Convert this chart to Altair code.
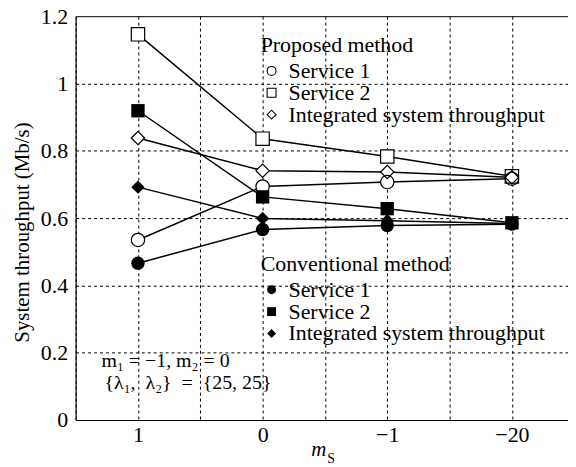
import altair as alt
import pandas as pd

# ---- data ----
x_labels = ["1", "0", "\u22121", "\u221220"]
series = ["Service 1", "Service 2", "Integrated system throughput"]
methods = ["Proposed method", "Conventional method"]

prop_s1 = [0.535, 0.694, 0.707, 0.717]
prop_s2 = [1.146, 0.836, 0.783, 0.724]
prop_int = [0.838, 0.741, 0.737, 0.721]
conv_s1 = [0.466, 0.566, 0.578, 0.582]
conv_s2 = [0.919, 0.663, 0.628, 0.586]
conv_int = [0.692, 0.599, 0.592, 0.584]

y_ticks = [0, 0.2, 0.4, 0.6, 0.8, 1.0, 1.2]
x_grid = [-0.5, 0, 0.5, 1, 1.5, 2, 2.5, 3]
annotation = ["m\u2081 = \u22121, m\u2082 = 0",
              "{\u03bb\u2081,\u00a0 \u03bb\u2082}\u00a0 =\u00a0 {25, 25}"]

rows = []
for method, vals in [(methods[0], [prop_s1, prop_s2, prop_int]),
                     (methods[1], [conv_s1, conv_s2, conv_int])]:
    for s, v in zip(series, vals):
        for i, val in enumerate(v):
            rows.append({"method": method, "series": s, "idx": i, "value": val,
                         "key": method + s})
df = pd.DataFrame(rows)

FONT = "Liberation Serif"
FS = 21
LFS = 22
shape_range = ["circle", "square", "diamond"]

labels_js = "[" + ",".join("'" + l + "'" for l in x_labels) + "]"
x_enc = alt.X("idx:Q", scale=alt.Scale(domain=[-0.5, 3.45], nice=False, zero=False),
              axis=alt.Axis(values=x_grid,
                            labelExpr=f"datum.value % 1 == 0 ? {labels_js}[datum.value] : ''",
                            grid=True, gridDash=[3, 3], gridColor="black", gridWidth=1,
                            ticks=False, domainColor="black", domainWidth=1.2,
                            labelFont=FONT, labelFontSize=22, labelColor="black",
                            labelPadding=5,
                            title="m", titleFont=FONT, titleFontSize=FS,
                            titleFontStyle="italic", titleFontWeight="normal",
                            titleColor="black", titleX=244, titleY=36,
                            titleBaseline="alphabetic", titleAlign="center"))
y_enc = alt.Y("value:Q", scale=alt.Scale(domain=[0, 1.2], nice=False),
              axis=alt.Axis(values=y_ticks, format="~g", grid=True,
                            gridDash={"condition": {"test": "datum.value > 1.19", "value": []},
                                      "value": [3, 3]},
                            gridColor="black", gridWidth=1, ticks=False,
                            domainColor="black", domainWidth=1.2,
                            labelFont=FONT, labelFontSize=22, labelColor="black",
                            labelPadding=8,
                            title="System throughput (Mb/s)", titleFont=FONT,
                            titleFontSize=FS, titleFontWeight="normal",
                            titleColor="black", titlePadding=8, titleY=217))

base = alt.Chart(df)

lines = base.mark_line(color="black", strokeWidth=1.5).encode(
    x=x_enc, y=y_enc, detail="key:N")


def legend(title, ly):
    return alt.Legend(title=title, orient="none", legendX=186, legendY=ly,
                      titleFont=FONT, titleFontSize=LFS, titleFontWeight="normal",
                      titleColor="black", titlePadding=3, titleLimit=0,
                      labelFont=FONT, labelFontSize=LFS, labelColor="black",
                      labelOffset=6, labelLimit=0, rowPadding=0, symbolSize=80,
                      symbolStrokeWidth=1.1, symbolOpacity=1, padding=0)


prop = base.transform_filter(alt.datum.method == methods[0])
conv = base.transform_filter(alt.datum.method == methods[1])

# white backing so the lines do not show through the open markers
p_back = prop.mark_point(filled=True, color="white", opacity=1, size=180).encode(
    x=x_enc, y=y_enc,
    shape=alt.Shape("series:N", scale=alt.Scale(domain=series, range=shape_range),
                    legend=None))
p_prop = prop.mark_point(filled=False, color="black", strokeWidth=1.2, opacity=1,
                         size=180).encode(
    x=x_enc, y=y_enc,
    shape=alt.Shape("series:N", scale=alt.Scale(domain=series, range=shape_range),
                    legend=legend(methods[0], 19)))
p_conv = conv.mark_point(filled=True, color="black", opacity=1, size=180).encode(
    x=x_enc, y=y_enc,
    shape=alt.Shape("series:N", scale=alt.Scale(domain=series, range=shape_range),
                    legend=legend(methods[1], 239)))

ann1 = alt.Chart(pd.DataFrame({"t": [annotation[0]]})).mark_text(
    align="left", baseline="middle", font=FONT, fontSize=20, color="black"
).encode(text="t:N", x=alt.value(26), y=alt.value(347))
ann2 = alt.Chart(pd.DataFrame({"t": [annotation[1]]})).mark_text(
    align="left", baseline="middle", font=FONT, fontSize=20, color="black"
).encode(text="t:N", x=alt.value(29), y=alt.value(369))
sub = alt.Chart(pd.DataFrame({"t": ["S"]})).mark_text(
    align="left", baseline="alphabetic", font=FONT, fontSize=14, color="black"
).encode(text="t:N", x=alt.value(253), y=alt.value(449))

chart = alt.layer(lines, p_back, p_prop, p_conv, ann1, ann2, sub).resolve_scale(
    shape="independent"
).resolve_legend(shape="independent").properties(
    width=495, height=406,
    autosize=alt.AutoSizeParams(type="none"),
    padding={"left": 68, "top": 7, "right": 0, "bottom": 44},
    background="white",
).configure_view(stroke=None)

chart.save("out.html", embed_options={"renderer": "svg", "actions": False})
